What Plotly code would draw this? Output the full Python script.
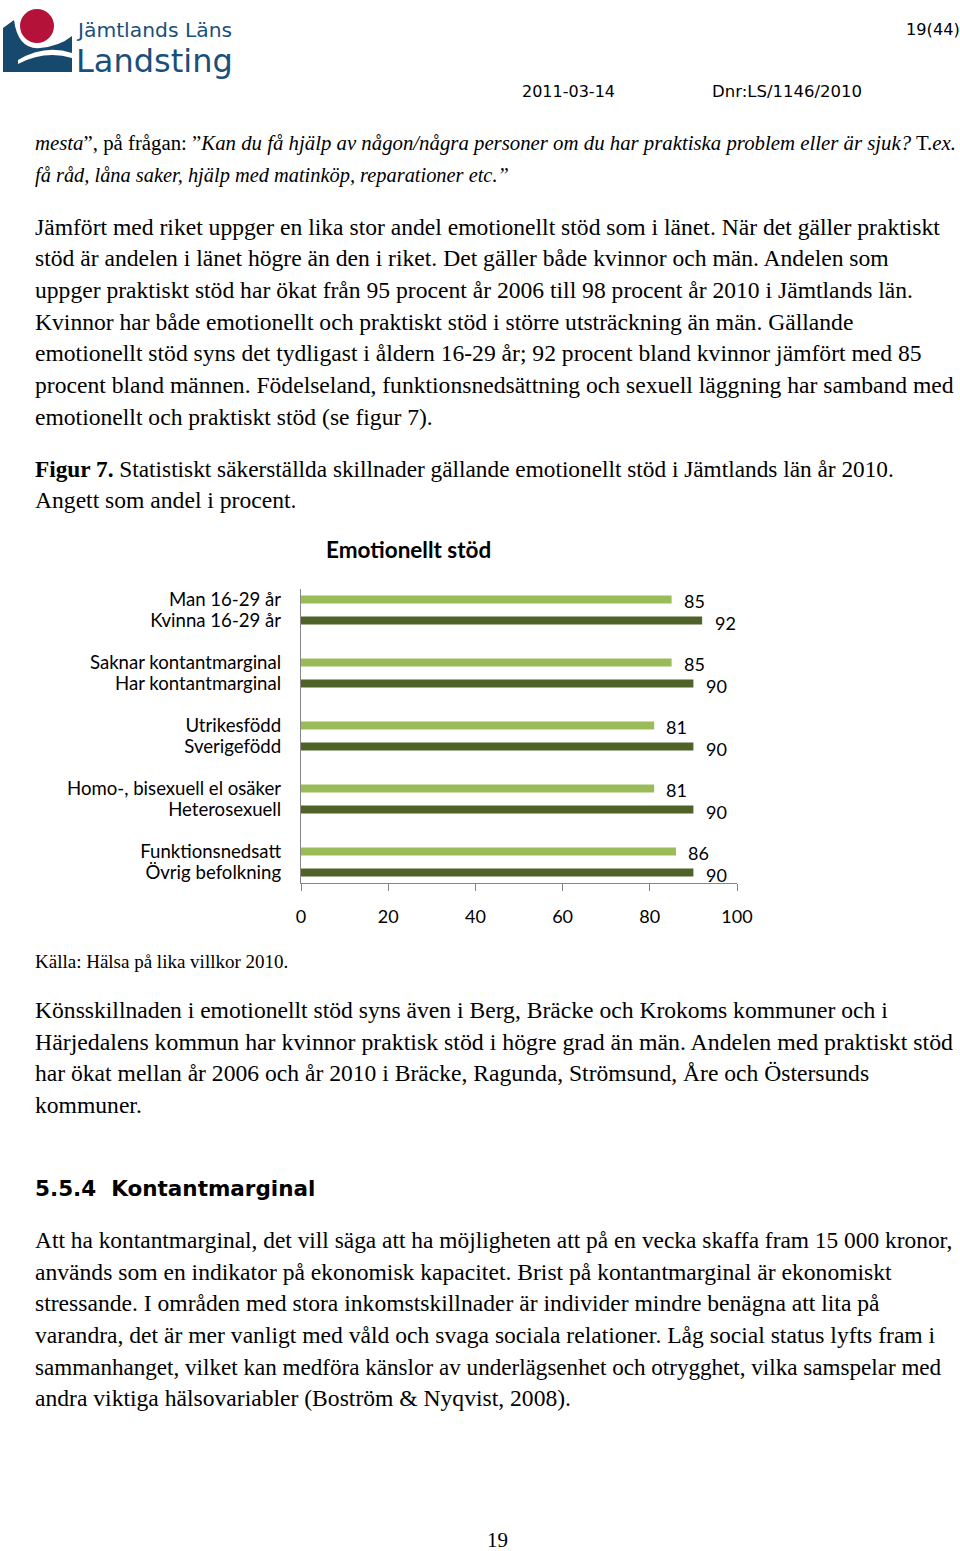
import plotly.graph_objects as go

# ---------------- data ----------------
chart_title = "Emotionellt stöd"
light_labels = ["Man 16-29 år", "Saknar kontantmarginal", "Utrikesfödd",
                "Homo-, bisexuell el osäker", "Funktionsnedsatt"]
light_values = [85, 85, 81, 81, 86]
dark_labels = ["Kvinna 16-29 år", "Har kontantmarginal", "Sverigefödd",
               "Heterosexuell", "Övrig befolkning"]
dark_values = [92, 90, 90, 90, 90]
x_ticks = [0, 20, 40, 60, 80, 100]

# category order (top to bottom) with blank spacer rows between pairs
spacers = [" " * (i + 1) for i in range(len(light_labels) - 1)]
cat_order = []
for i in range(len(light_labels)):
    cat_order += [light_labels[i], dark_labels[i]]
    if i < len(spacers):
        cat_order.append(spacers[i])

W, H = 960, 1551
LIGHT = "#9bbb59"
DARK = "#4f6228"
AXIS = "#868686"
SERIF = "Liberation Serif"
CHART_FONT = "Lato"
HDR_FONT = "DejaVu Sans"
BODY = 23.6


def px(x):
    return x / W


def py(y):
    return 1 - y / H


fig = go.Figure()
fig.add_trace(go.Bar(y=light_labels, x=light_values, orientation="h",
                     marker=dict(color=LIGHT, line=dict(width=0)),
                     width=0.38, hoverinfo="x+y", showlegend=False))
fig.add_trace(go.Bar(y=dark_labels, x=dark_values, orientation="h",
                     marker=dict(color=DARK, line=dict(width=0)),
                     width=0.38, hoverinfo="x+y", showlegend=False))

annotations = []
# value labels
for lab, v in zip(light_labels, light_values):
    annotations.append(dict(x=v, y=lab, xref="x", yref="y", text=str(v),
                            showarrow=False, xanchor="left", yanchor="middle",
                            xshift=10, yshift=-1,
                            font=dict(family=CHART_FONT, size=18, color="#000")))
for lab, v in zip(dark_labels, dark_values):
    annotations.append(dict(x=v, y=lab, xref="x", yref="y", text=str(v),
                            showarrow=False, xanchor="left", yanchor="middle",
                            xshift=11, yshift=-2,
                            font=dict(family=CHART_FONT, size=18, color="#000")))


def txt(x, y, s, size=BODY, family=SERIF, anchor="left", color="#000"):
    annotations.append(dict(x=px(x), y=py(y), xref="paper", yref="paper",
                            text=s, showarrow=False, xanchor=anchor,
                            yanchor="middle", align=anchor, borderpad=0,
                            borderwidth=0,
                            font=dict(family=family, size=size, color=color)))


# header
txt(960, 30, "19(44)", size=16.2, family=HDR_FONT, anchor="right")
txt(521.5, 91, "2011-03-14", size=16, family=HDR_FONT)
txt(712, 91, "Dnr:LS/1146/2010", size=16.5, family=HDR_FONT)
txt(76, 29.8, "Jämtlands Läns", size=20.3, family=HDR_FONT, color="#1a4f7a")
txt(75.5, 60.5, "Landsting", size=32, family=HDR_FONT, color="#1a4f7a")

# body text: (y, text, size)
lines = [
    (143, "<i>mesta</i>”, på frågan: ”<i>Kan du få hjälp av någon/några personer om du har praktiska problem eller är sjuk?</i> T.<i>ex.</i>", 20.8),
    (175, "<i>få råd, låna saker, hjälp med matinköp, reparationer etc.”</i>", 20.4),
    (227, "Jämfört med riket uppger en lika stor andel emotionellt stöd som i länet. När det gäller praktiskt", BODY),
    (258, "stöd är andelen i länet högre än den i riket. Det gäller både kvinnor och män. Andelen som", BODY),
    (290, "uppger praktiskt stöd har ökat från 95 procent år 2006 till 98 procent år 2010 i Jämtlands län.", BODY),
    (322, "Kvinnor har både emotionellt och praktiskt stöd i större utsträckning än män. Gällande", BODY),
    (353, "emotionellt stöd syns det tydligast i åldern 16-29 år; 92 procent bland kvinnor jämfört med 85", BODY),
    (385, "procent bland männen. Födelseland, funktionsnedsättning och sexuell läggning har samband med", BODY),
    (417, "emotionellt och praktiskt stöd (se figur 7).", BODY),
    (469, "<b>Figur 7.</b> Statistiskt säkerställda skillnader gällande emotionellt stöd i Jämtlands län år 2010.", 23.3),
    (500, "Angett som andel i procent.", BODY),
    (1010, "Könsskillnaden i emotionellt stöd syns även i Berg, Bräcke och Krokoms kommuner och i", BODY),
    (1042, "Härjedalens kommun har kvinnor praktisk stöd i högre grad än män. Andelen med praktiskt stöd", 23.8),
    (1073, "har ökat mellan år 2006 och år 2010 i Bräcke, Ragunda, Strömsund, Åre och Östersunds", BODY),
    (1105, "kommuner.", BODY),
    (1240, "Att ha kontantmarginal, det vill säga att ha möjligheten att på en vecka skaffa fram 15 000 kronor,", 23.4),
    (1272, "används som en indikator på ekonomisk kapacitet. Brist på kontantmarginal är ekonomiskt", BODY),
    (1303, "stressande. I områden med stora inkomstskillnader är individer mindre benägna att lita på", BODY),
    (1335, "varandra, det är mer vanligt med våld och svaga sociala relationer. Låg social status lyfts fram i", BODY),
    (1367, "sammanhanget, vilket kan medföra känslor av underlägsenhet och otrygghet, vilka samspelar med", 23.1),
    (1398, "andra viktiga hälsovariabler (Boström &amp; Nyqvist, 2008).", BODY),
]
for y, s, sz in lines:
    txt(34.5, y, s, size=sz)

txt(34.5, 961, "Källa: Hälsa på lika villkor 2010.", size=19)
txt(34.5, 1188, "<b>5.5.4  Kontantmarginal</b>", size=21.5, family=HDR_FONT)
txt(497, 1540, "19", size=21, anchor="center")
txt(408, 549, "<b>" + chart_title + "</b>", size=22.5, family=CHART_FONT, anchor="center")

# logo shapes
shapes = [
    dict(type="path", xref="paper", yref="paper",
         path=("M {a},{b} L {c},{d} Q {e},{f} {g},{h} Q {i},{j} {k},{l} "
               "L {k},{m} L {a},{m} Z").format(
             a=px(3), b=py(28), c=px(14), d=py(20), e=px(18), f=py(50),
             g=px(40), h=py(48), i=px(60), j=py(46), k=px(72), l=py(36),
             m=py(72)),
         fillcolor="#17496f", line=dict(width=0)),
    dict(type="path", xref="paper", yref="paper",
         path=("M {a},{b} Q {c},{d} {e},{f} L {e},{g} Q {c},{h} {a},{i} Z").format(
             a=px(18), b=py(60), c=px(45), d=py(44), e=px(72), f=py(53),
             g=py(58), h=py(50), i=py(64)),
         fillcolor="white", line=dict(width=0)),
    dict(type="circle", xref="paper", yref="paper",
         x0=px(20), x1=px(54), y0=py(43), y1=py(9),
         fillcolor="#b5123a", line=dict(width=0)),
]

fig.update_layout(
    width=W, height=H,
    margin=dict(l=0, r=0, t=0, b=0, pad=0, autoexpand=False),
    paper_bgcolor="white", plot_bgcolor="white",
    barmode="overlay",
    annotations=annotations,
    shapes=shapes,
    xaxis=dict(domain=[px(301), px(737)], range=[0, 100],
               tickmode="array", tickvals=x_ticks,
               ticks="outside", ticklen=7, tickcolor=AXIS,
               showline=True, linecolor=AXIS, linewidth=1.3,
               showgrid=False, zeroline=False, ticklabelstandoff=10,
               automargin=False,
               tickfont=dict(family=CHART_FONT, size=18, color="#000"),
               fixedrange=True),
    yaxis=dict(domain=[py(883), py(589)], type="category",
               categoryorder="array", categoryarray=cat_order,
               tickmode="array", tickvals=cat_order, ticktext=cat_order,
               range=[len(cat_order) - 0.5, -0.5],
               showline=True, linecolor=AXIS, linewidth=1.3,
               ticks="", showgrid=False, zeroline=False,
               ticklabelstandoff=15, automargin=False,
               tickfont=dict(family=CHART_FONT, size=18.6, color="#000"),
               fixedrange=True),
    showlegend=False,
)

fig.write_html("out.html",
               config={"displayModeBar": False},
               post_script="document.body.style.margin='0';"
                           "document.body.style.overflow='hidden';")
